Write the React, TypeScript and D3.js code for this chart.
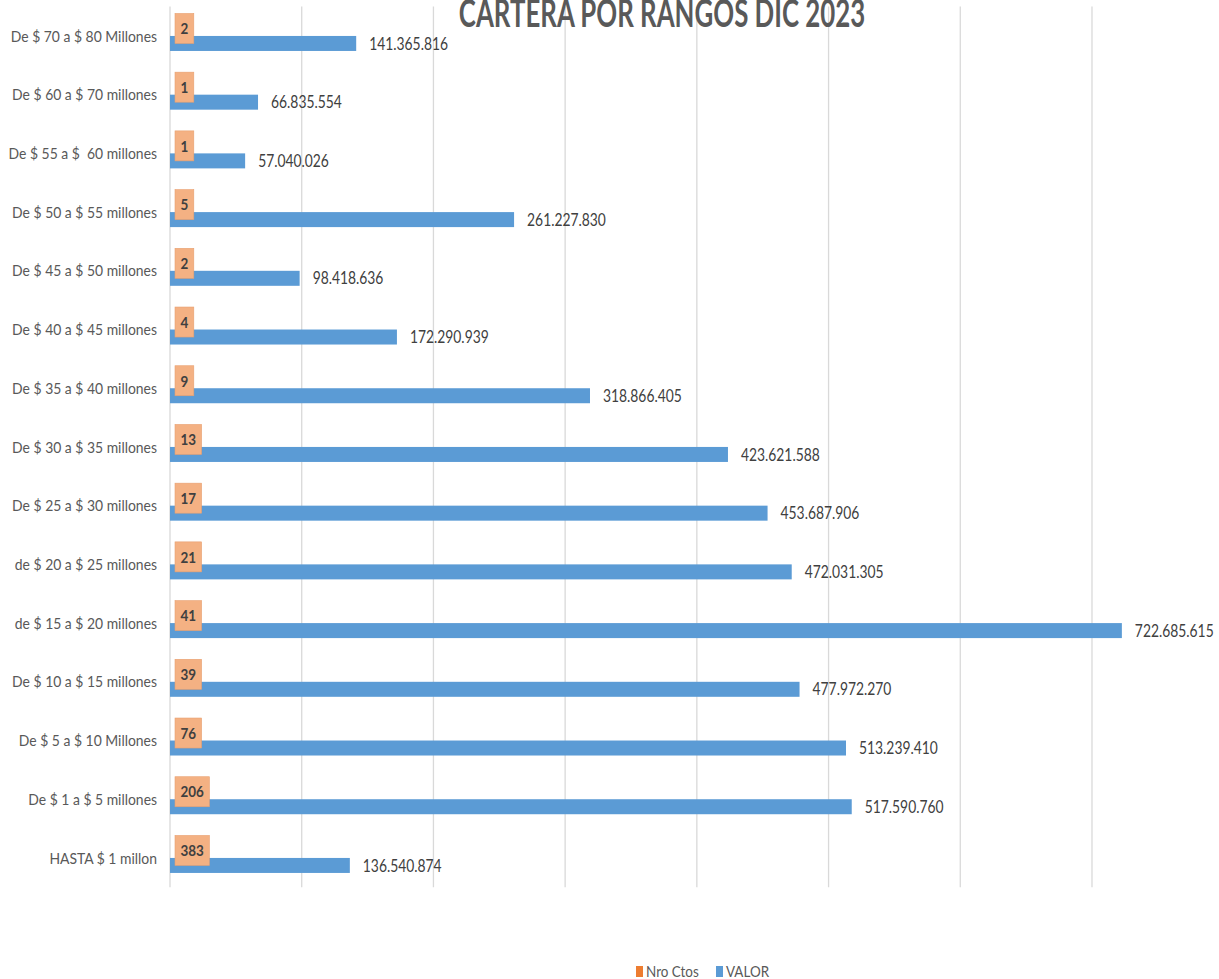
import React, { useEffect, useRef } from "react";
import * as d3 from "d3";

const categories: string[] = [
  "De $ 70 a $ 80 Millones",
  "De $ 60 a $ 70 millones",
  "De $ 55 a $  60 millones",
  "De $ 50 a $ 55 millones",
  "De $ 45 a $ 50 millones",
  "De $ 40 a $ 45 millones",
  "De $ 35 a $ 40 millones",
  "De $ 30 a $ 35 millones",
  "De $ 25 a $ 30 millones",
  "de $ 20 a $ 25 millones",
  "de $ 15 a $ 20 millones",
  "De $ 10 a $ 15 millones",
  "De $ 5 a $ 10 Millones",
  "De $ 1 a $ 5 millones",
  "HASTA $ 1 millon",
];
const nroCtos: number[] = [2, 1, 1, 5, 2, 4, 9, 13, 17, 21, 41, 39, 76, 206, 383];
const valor: number[] = [
  141365816, 66835554, 57040026, 261227830, 98418636, 172290939, 318866405,
  423621588, 453687906, 472031305, 722685615, 477972270, 513239410, 517590760,
  136540874,
];
const xTicks: number[] = [0, 100e6, 200e6, 300e6, 400e6, 500e6, 600e6, 700e6, 800e6];
const seriesNames: string[] = ["Nro Ctos", "VALOR"];
const title = "CARTERA POR RANGOS DIC 2023";

const W = 1219;
const H = 979;
const FONT = "Lato, 'Open Sans', sans-serif";
const SX = 0.84;

export default function App() {
  const ref = useRef<SVGSVGElement>(null);
  useEffect(() => {
    const svg = d3.select(ref.current!);
    svg.selectAll("*").remove();
    const loc = d3.formatLocale({ thousands: ".", grouping: [3], decimal: ",", currency: ["$", ""] });
    const fmt = loc.format(",d");

    const x = d3.scaleLinear().domain([0, 800e6]).range([170, 1223.7]);
    const y = d3.scaleBand<string>().domain(categories).range([6.6, 887.3]).padding(0);
    const sub = d3
      .scaleBand<string>()
      .domain(seriesNames)
      .range([0, y.bandwidth()])
      .paddingInner(0)
      .paddingOuter((y.bandwidth() - 30) / 2 / 15);

    // gridlines
    svg
      .append("g")
      .selectAll("line")
      .data(xTicks)
      .join("line")
      .attr("x1", (d) => x(d))
      .attr("x2", (d) => x(d))
      .attr("y1", 6.6)
      .attr("y2", 887.3)
      .attr("stroke", "#D9D9D9")
      .attr("stroke-width", 1.3);

    // title
    svg
      .append("text")
      .attr("transform", `translate(662,27) scale(0.68,1)`)
      .attr("text-anchor", "middle")
      .attr("font-family", FONT)
      .attr("font-weight", "bold")
      .attr("font-size", 38)
      .attr("fill", "#595959")
      .text(title);

    // category labels
    svg
      .append("g")
      .selectAll("text")
      .data(categories)
      .join("text")
      .attr("transform", (d) => `translate(157,${y(d)! + y.bandwidth() / 2}) scale(0.87,1)`)
      .attr("text-anchor", "end")
      .attr("dy", "0.35em")
      .attr("font-family", FONT)
      .attr("font-size", 16)
      .attr("fill", "#595959")
      .style("white-space", "pre")
      .text((d) => d);

    // VALOR bars
    svg
      .append("g")
      .selectAll("rect")
      .data(valor)
      .join("rect")
      .attr("x", x(0))
      .attr("y", (_, i) => y(categories[i])! + sub("VALOR")!)
      .attr("width", (d) => x(d) - x(0))
      .attr("height", sub.bandwidth())
      .attr("fill", "#5B9BD5");

    // Nro Ctos bars (tiny on this scale)
    svg
      .append("g")
      .selectAll("rect")
      .data(nroCtos)
      .join("rect")
      .attr("x", x(0))
      .attr("y", (_, i) => y(categories[i])! + sub("Nro Ctos")!)
      .attr("width", (d) => x(d) - x(0))
      .attr("height", sub.bandwidth())
      .attr("fill", "#ED7D31");

    // value labels
    svg
      .append("g")
      .selectAll("text")
      .data(valor)
      .join("text")
      .attr(
        "transform",
        (d, i) =>
          `translate(${x(d) + 13},${y(categories[i])! + sub("VALOR")! + sub.bandwidth() / 2}) scale(${SX},1)`
      )
      .attr("dy", "0.37em")
      .attr("font-family", FONT)
      .attr("font-size", 16.5)
      .attr("fill", "#404040")
      .text((d) => fmt(d));

    // Nro Ctos labels with boxes
    const lg = svg.append("g");
    nroCtos.forEach((v, i) => {
      const cy = y(categories[i])! + sub("Nro Ctos")! + sub.bandwidth() / 2;
      const x0 = x(v) + 5;
      const g = lg.append("g");
      const rect = g.append("rect");
      const t = g
        .append("text")
        .attr("transform", `translate(${x0 + 5.5},${cy}) scale(${SX},1)`)
        .attr("dy", "0.36em")
        .attr("font-family", FONT)
        .attr("font-weight", "bold")
        .attr("font-size", 16)
        .attr("fill", "#404040")
        .text(String(v));
      const tw = (t.node() as SVGTextElement).getComputedTextLength() * SX;
      rect
        .attr("x", x0)
        .attr("y", cy - 15)
        .attr("width", tw + 11)
        .attr("height", 30)
        .attr("fill", "#F4B183")
        .attr("stroke", "#E8A070")
        .attr("stroke-width", 0.6);
    });

    // legend
    const colors = ["#ED7D31", "#5B9BD5"];
    const legX = [636, 716];
    const leg = svg.append("g");
    seriesNames.forEach((s, i) => {
      leg
        .append("rect")
        .attr("x", legX[i])
        .attr("y", 966)
        .attr("width", 7)
        .attr("height", 11)
        .attr("fill", colors[i]);
      leg
        .append("text")
        .attr("transform", `translate(${legX[i] + 10},977) scale(${SX},1)`)
        .attr("font-family", FONT)
        .attr("font-size", 16)
        .attr("fill", "#595959")
        .text(s);
    });
  }, []);

  return (
    <svg
      ref={ref}
      width={W}
      height={H}
      style={{ position: "fixed", left: 0, top: 0, background: "#fff" }}
    />
  );
}
